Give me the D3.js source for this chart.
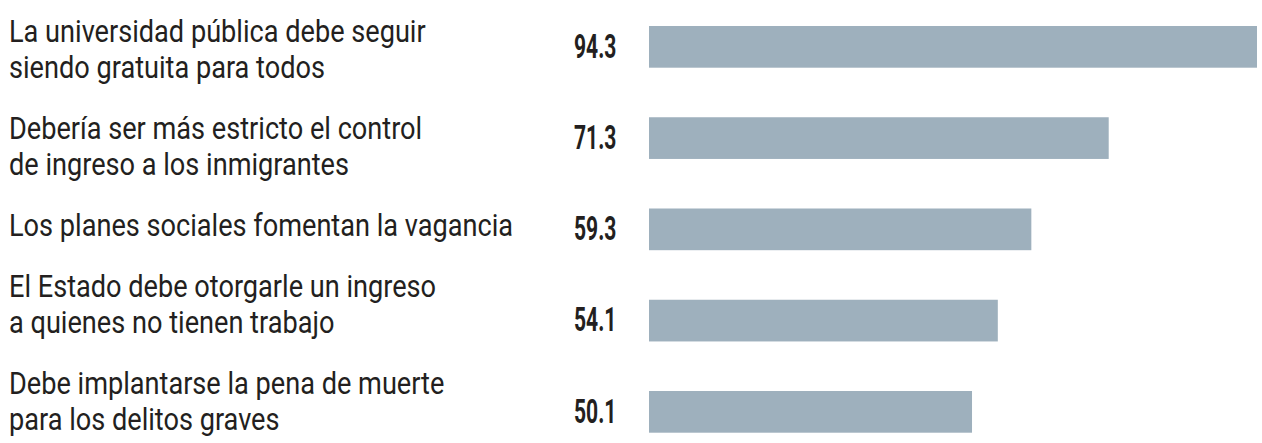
<!DOCTYPE html>
<html>
<head>
<meta charset="utf-8">
<style>
  body { margin: 0; background: #fff; }
  svg { display: block; }
  .label { font-family: Roboto, "Noto Sans", sans-serif; font-size: 30.5px; fill: #231f20; }
  .value { font-family: Roboto, "Noto Sans", sans-serif; font-weight: 700; font-size: 34px; fill: #231f20; }
</style>
</head>
<body>
<svg width="1262" height="443"></svg>
<script src="https://d3js.org/d3.v7.min.js"></script>
<script>

// survey statements (split in lines as in the original) and % agreement
var categories = [
  ["La universidad pública debe seguir", "siendo gratuita para todos"],
  ["Debería ser más estricto el control", "de ingreso a los inmigrantes"],
  ["Los planes sociales fomentan la vagancia"],
  ["El Estado debe otorgarle un ingreso", "a quienes no tienen trabajo"],
  ["Debe implantarse la pena de muerte", "para los delitos graves"]
];
var values = [94.3, 71.3, 59.3, 54.1, 50.1];

var svg = d3.select("svg"),
    barLeft = 649, barRight = 1257,
    valueX = 574,
    labelX = 9,
    lineH = 36, rowGap = 25, firstLine = 32,
    labelScale = 0.89, valueScale = 0.62;

var x = d3.scaleLinear()
    .domain([0, d3.max(values)])
    .range([barLeft, barRight]);

var y = d3.scaleBand()
    .domain(d3.range(values.length))
    .range([26, 432.7])
    .paddingInner(0.543)
    .paddingOuter(0);

// bars
svg.append("g")
  .selectAll("rect")
  .data(values)
  .join("rect")
    .attr("x", x(0))
    .attr("y", function(d, i) { return y(i); })
    .attr("width", function(d) { return x(d) - x(0); })
    .attr("height", y.bandwidth())
    .attr("fill", "#9eb0bd");

// value labels
svg.append("g")
  .selectAll("text")
  .data(values)
  .join("text")
    .attr("class", "value")
    .attr("transform", function(d, i) {
      return "translate(" + valueX + "," + (y(i) + y.bandwidth() / 2 - 1.5) + ") scale(" + valueScale + ",1)";
    })
    .attr("dy", "0.36em")
    .text(function(d) { return d3.format(".1f")(d); });

// statement labels, stacked line by line
var lineY = [], cur = firstLine;
categories.forEach(function(lines) {
  lineY.push(cur);
  cur += lines.length * lineH + rowGap;
});

var lab = svg.append("g")
  .selectAll("text")
  .data(categories)
  .join("text")
    .attr("class", "label")
    .attr("transform", function(d, i) {
      return "translate(" + labelX + "," + lineY[i] + ") scale(" + labelScale + ",1)";
    });

lab.selectAll("tspan")
  .data(function(d) { return d; })
  .join("tspan")
    .attr("x", 0)
    .attr("y", function(d, j) { return j * lineH; })
    .attr("dy", 10)
    .text(function(d) { return d; });

</script>
</body>
</html>
